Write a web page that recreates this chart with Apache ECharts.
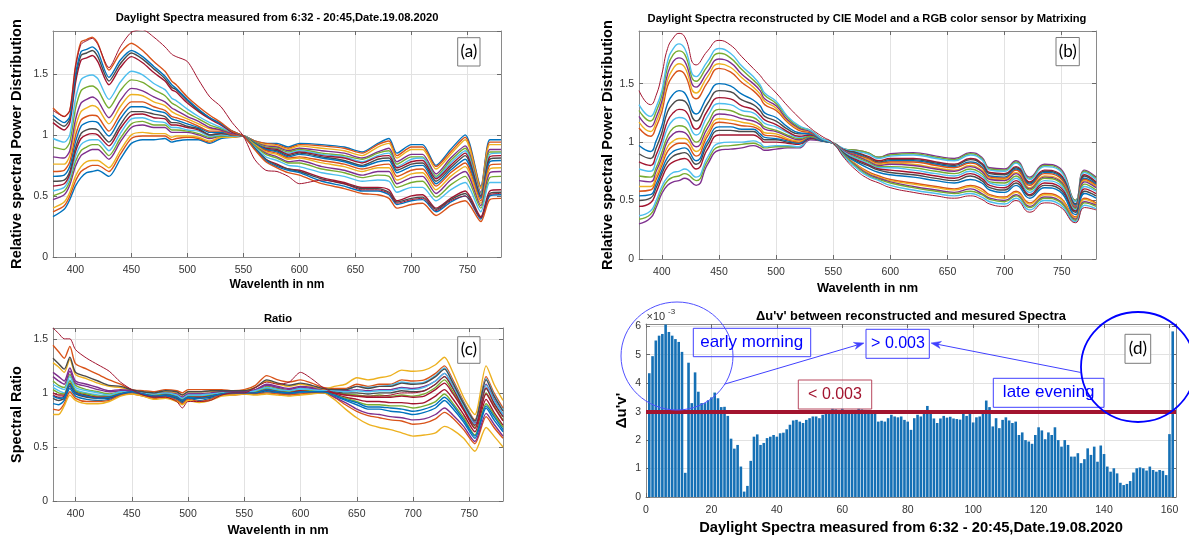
<!DOCTYPE html>
<html>
<head>
<meta charset="utf-8">
<title>Daylight spectra</title>
<script src="https://cdn.jsdelivr.net/npm/echarts@6/dist/echarts.min.js"></script>
<style>
  html, body { margin: 0; padding: 0; background: #fff; }
  #chart { width: 1189px; height: 540px; }
</style>
</head>
<body>
<div id="chart"></div>
<script>
// ---------------- data ----------------
// wavelength tick labels (nm)
const WL_TICKS = [400, 450, 500, 550, 600, 650, 700, 750];

// sample wavelengths of the measured / reconstructed spectra (nm)
const WL_AB = [380,390,395,400,405,410,415,420,430,440,
               450,460,470,480,486,490,500,510,520,530,
               540,550,560,570,580,590,600,620,640,656,
               670,680,687,700,710,722,735,748,762,770,780];

// (a) measured relative spectral power distributions
const meas01 = [0.33,0.39,0.47,0.58,0.65,0.69,0.70,0.71,0.66,0.80, 0.93,0.96,0.96,0.97,0.94,0.95,0.96,0.96,0.93,0.97, 0.98,0.99,0.95,0.93,0.93,0.90,0.93,0.92,0.90,0.86, 0.93,0.97,0.85,0.92,0.92,0.75,0.88,1.00,0.58,0.96,0.96];
const meas02 = [0.37,0.42,0.50,0.62,0.70,0.73,0.75,0.75,0.70,0.84, 0.97,0.99,0.99,0.99,0.96,0.97,0.98,0.97,0.94,0.98, 0.98,0.99,0.95,0.93,0.92,0.89,0.92,0.91,0.89,0.85, 0.92,0.95,0.83,0.90,0.90,0.74,0.86,0.98,0.57,0.94,0.94];
const meas03 = [0.40,0.45,0.53,0.66,0.74,0.78,0.79,0.79,0.73,0.87, 1.00,1.02,1.01,1.01,0.98,0.99,0.99,0.98,0.95,0.98, 0.98,0.99,0.94,0.92,0.91,0.88,0.91,0.89,0.87,0.83, 0.90,0.93,0.81,0.88,0.88,0.72,0.84,0.96,0.56,0.92,0.92];
const meas04 = [0.47,0.51,0.59,0.74,0.83,0.86,0.88,0.88,0.80,0.94, 1.06,1.08,1.06,1.06,1.02,1.02,1.02,1.00,0.97,0.99, 0.99,0.99,0.94,0.91,0.90,0.87,0.89,0.87,0.85,0.81, 0.86,0.89,0.78,0.84,0.84,0.68,0.81,0.91,0.53,0.88,0.88];
const meas05 = [0.50,0.54,0.62,0.78,0.87,0.90,0.92,0.92,0.83,0.97, 1.09,1.11,1.08,1.08,1.04,1.04,1.03,1.01,0.98,0.99, 0.99,0.99,0.94,0.90,0.89,0.86,0.88,0.85,0.83,0.80, 0.85,0.87,0.76,0.82,0.82,0.66,0.79,0.89,0.52,0.86,0.86];
const meas06 = [0.54,0.57,0.65,0.82,0.92,0.95,0.96,0.96,0.87,1.01, 1.13,1.14,1.11,1.10,1.06,1.06,1.04,1.03,0.99,1.00, 0.99,0.99,0.93,0.89,0.88,0.85,0.87,0.84,0.82,0.78, 0.83,0.85,0.74,0.80,0.81,0.65,0.77,0.87,0.51,0.84,0.85];
const meas07 = [0.58,0.60,0.68,0.86,0.97,1.00,1.01,1.00,0.91,1.05, 1.16,1.17,1.14,1.13,1.08,1.08,1.06,1.04,1.00,1.01, 1.00,0.99,0.93,0.89,0.88,0.84,0.86,0.83,0.81,0.77, 0.82,0.83,0.73,0.78,0.79,0.64,0.75,0.85,0.50,0.82,0.83];
const meas08 = [0.62,0.63,0.70,0.89,1.01,1.04,1.05,1.04,0.94,1.08, 1.19,1.19,1.17,1.15,1.10,1.10,1.07,1.05,1.00,1.01, 1.00,0.99,0.93,0.88,0.87,0.83,0.85,0.82,0.79,0.75, 0.80,0.81,0.71,0.76,0.77,0.62,0.73,0.83,0.49,0.80,0.81];
const meas09 = [0.66,0.67,0.74,0.94,1.07,1.10,1.11,1.10,0.99,1.13, 1.23,1.23,1.20,1.18,1.13,1.12,1.09,1.06,1.02,1.02, 1.00,0.99,0.93,0.88,0.86,0.82,0.84,0.81,0.78,0.74, 0.78,0.79,0.69,0.74,0.75,0.60,0.71,0.80,0.48,0.78,0.79];
const meas10 = [0.70,0.71,0.78,0.99,1.12,1.15,1.16,1.15,1.03,1.17, 1.27,1.27,1.23,1.20,1.15,1.14,1.11,1.07,1.03,1.03, 1.00,0.99,0.92,0.87,0.85,0.81,0.82,0.79,0.76,0.72, 0.75,0.76,0.66,0.71,0.72,0.58,0.69,0.77,0.46,0.75,0.76];
const meas11 = [0.76,0.76,0.83,1.06,1.19,1.22,1.24,1.22,1.09,1.23, 1.33,1.32,1.27,1.24,1.19,1.17,1.13,1.09,1.05,1.04, 1.01,0.99,0.92,0.86,0.84,0.80,0.81,0.77,0.74,0.70, 0.73,0.73,0.63,0.68,0.69,0.55,0.66,0.74,0.44,0.72,0.73];
const meas12 = [0.82,0.81,0.87,1.12,1.26,1.29,1.31,1.28,1.14,1.28, 1.38,1.36,1.31,1.27,1.22,1.20,1.15,1.11,1.06,1.04, 1.01,0.99,0.91,0.85,0.82,0.78,0.79,0.74,0.71,0.67, 0.70,0.70,0.60,0.65,0.66,0.52,0.63,0.70,0.42,0.69,0.70];
const meas13 = [0.90,0.88,0.94,1.21,1.36,1.39,1.40,1.37,1.22,1.36, 1.45,1.43,1.37,1.32,1.26,1.24,1.18,1.13,1.08,1.05, 1.02,0.99,0.91,0.84,0.81,0.77,0.77,0.72,0.69,0.65, 0.67,0.66,0.57,0.61,0.62,0.49,0.59,0.66,0.40,0.65,0.66];
const meas14 = [0.97,0.94,1.00,1.29,1.45,1.48,1.49,1.46,1.29,1.43, 1.52,1.49,1.42,1.37,1.30,1.28,1.21,1.15,1.10,1.06, 1.02,0.99,0.90,0.82,0.79,0.75,0.74,0.69,0.66,0.62, 0.63,0.62,0.53,0.57,0.57,0.46,0.55,0.61,0.37,0.61,0.61];
const meas15 = [1.10,1.04,1.10,1.42,1.61,1.63,1.65,1.60,1.41,1.55, 1.64,1.59,1.51,1.44,1.37,1.35,1.26,1.19,1.13,1.08, 1.02,0.99,0.89,0.80,0.76,0.72,0.71,0.65,0.61,0.57, 0.57,0.55,0.46,0.50,0.51,0.40,0.48,0.54,0.33,0.54,0.55];
const meas16 = [1.13,1.07,1.13,1.46,1.65,1.67,1.69,1.64,1.44,1.58, 1.67,1.62,1.54,1.46,1.39,1.37,1.28,1.20,1.14,1.09, 1.03,0.99,0.89,0.80,0.75,0.72,0.70,0.64,0.60,0.56, 0.56,0.53,0.45,0.48,0.49,0.39,0.47,0.52,0.32,0.52,0.53];
const meas17 = [1.16,1.10,1.15,1.49,1.68,1.70,1.72,1.68,1.47,1.61, 1.69,1.64,1.56,1.48,1.41,1.38,1.29,1.21,1.14,1.09, 1.03,0.99,0.89,0.79,0.74,0.71,0.69,0.62,0.58,0.54, 0.54,0.51,0.43,0.46,0.47,0.37,0.45,0.50,0.31,0.50,0.51];
const meas18 = [1.22,1.15,1.20,1.56,1.76,1.78,1.80,1.75,1.53,1.67, 1.75,1.69,1.60,1.52,1.44,1.41,1.31,1.23,1.16,1.10, 1.03,0.99,0.88,0.78,0.73,0.69,0.67,0.60,0.56,0.52, 0.51,0.48,0.40,0.43,0.44,0.34,0.42,0.46,0.29,0.47,0.48];
const measPeak = [1.20,1.15,1.20,1.55,1.74,1.77,1.79,1.74,1.55,1.72, 1.84,1.86,1.80,1.72,1.66,1.64,1.60,1.45,1.31,1.23, 1.10,0.99,0.80,0.71,0.70,0.66,0.60,0.63,0.60,0.55, 0.55,0.52,0.44,0.47,0.48,0.38,0.46,0.50,0.32,0.51,0.52];

// (b) spectra reconstructed by the CIE model from the RGB sensor
const reco01 = [0.30,0.35,0.44,0.56,0.63,0.66,0.67,0.69,0.63,0.81, 0.93,0.94,0.95,0.97,0.95,0.93,0.94,0.95,0.95,1.02, 1.01,0.99,0.94,0.93,0.91,0.87,0.90,0.91,0.88,0.86, 0.91,0.87,0.78,0.77,0.84,0.70,0.81,0.78,0.50,0.76,0.70];
const reco02 = [0.34,0.38,0.47,0.59,0.67,0.70,0.71,0.73,0.67,0.84, 0.96,0.97,0.98,0.99,0.97,0.95,0.96,0.96,0.96,1.03, 1.01,0.99,0.94,0.93,0.91,0.87,0.89,0.90,0.87,0.85, 0.90,0.86,0.77,0.76,0.83,0.69,0.80,0.77,0.50,0.75,0.69];
const reco03 = [0.37,0.41,0.50,0.62,0.70,0.74,0.75,0.77,0.70,0.87, 0.99,1.00,1.00,1.01,0.99,0.96,0.97,0.97,0.96,1.03, 1.01,0.99,0.94,0.92,0.90,0.86,0.88,0.89,0.86,0.84, 0.89,0.85,0.76,0.75,0.82,0.68,0.79,0.76,0.49,0.74,0.68];
const reco04 = [0.45,0.48,0.57,0.69,0.79,0.83,0.85,0.86,0.77,0.94, 1.06,1.06,1.06,1.06,1.03,1.00,1.00,0.99,0.98,1.03, 1.01,0.99,0.93,0.91,0.88,0.84,0.86,0.86,0.83,0.81, 0.86,0.82,0.74,0.73,0.79,0.66,0.76,0.73,0.47,0.72,0.66];
const reco05 = [0.50,0.52,0.61,0.73,0.83,0.88,0.90,0.91,0.81,0.98, 1.10,1.10,1.09,1.09,1.05,1.02,1.02,1.00,0.99,1.04, 1.01,0.99,0.93,0.91,0.87,0.83,0.85,0.85,0.82,0.80, 0.85,0.81,0.73,0.72,0.78,0.65,0.75,0.72,0.47,0.71,0.65];
const reco06 = [0.54,0.55,0.64,0.76,0.87,0.92,0.94,0.95,0.84,1.01, 1.13,1.13,1.11,1.11,1.07,1.04,1.03,1.01,0.99,1.04, 1.01,0.99,0.92,0.90,0.86,0.82,0.84,0.84,0.81,0.79, 0.83,0.79,0.71,0.70,0.77,0.64,0.74,0.71,0.46,0.69,0.64];
const reco07 = [0.58,0.59,0.68,0.80,0.92,0.97,0.99,0.99,0.88,1.05, 1.17,1.16,1.14,1.13,1.10,1.06,1.05,1.02,1.00,1.05, 1.02,0.99,0.92,0.89,0.86,0.82,0.83,0.83,0.80,0.78, 0.82,0.78,0.70,0.69,0.76,0.63,0.73,0.70,0.45,0.68,0.63];
const reco08 = [0.62,0.62,0.71,0.83,0.96,1.01,1.03,1.03,0.92,1.08, 1.20,1.19,1.17,1.15,1.12,1.08,1.07,1.03,1.01,1.05, 1.02,0.99,0.92,0.88,0.85,0.81,0.82,0.81,0.78,0.76, 0.80,0.76,0.69,0.68,0.74,0.61,0.71,0.68,0.44,0.67,0.62];
const reco09 = [0.67,0.66,0.75,0.87,1.01,1.07,1.09,1.08,0.96,1.12, 1.24,1.23,1.20,1.18,1.15,1.11,1.09,1.05,1.02,1.05, 1.02,0.99,0.92,0.88,0.84,0.80,0.81,0.80,0.77,0.75, 0.79,0.75,0.68,0.67,0.73,0.60,0.70,0.67,0.44,0.66,0.61];
const reco10 = [0.71,0.70,0.78,0.91,1.05,1.12,1.14,1.13,1.00,1.16, 1.28,1.27,1.23,1.21,1.17,1.13,1.10,1.06,1.03,1.05, 1.02,0.99,0.91,0.87,0.83,0.79,0.79,0.78,0.75,0.73, 0.77,0.73,0.66,0.65,0.71,0.59,0.69,0.66,0.43,0.64,0.59];
const reco11 = [0.77,0.75,0.84,0.97,1.12,1.19,1.21,1.20,1.06,1.22, 1.33,1.32,1.27,1.25,1.20,1.16,1.13,1.08,1.04,1.06, 1.02,0.99,0.91,0.86,0.82,0.78,0.78,0.76,0.73,0.71, 0.75,0.71,0.65,0.63,0.69,0.57,0.67,0.64,0.42,0.62,0.58];
const reco12 = [0.83,0.80,0.89,1.02,1.18,1.25,1.28,1.27,1.11,1.27, 1.38,1.37,1.31,1.28,1.23,1.19,1.15,1.09,1.05,1.06, 1.02,0.99,0.90,0.85,0.81,0.77,0.76,0.74,0.71,0.69, 0.73,0.69,0.63,0.61,0.67,0.55,0.65,0.62,0.41,0.60,0.56];
const reco13 = [0.90,0.86,0.95,1.08,1.26,1.33,1.36,1.35,1.18,1.33, 1.44,1.43,1.36,1.32,1.27,1.22,1.18,1.11,1.07,1.07, 1.02,0.99,0.90,0.84,0.80,0.76,0.74,0.72,0.69,0.67, 0.71,0.67,0.61,0.59,0.65,0.54,0.63,0.60,0.40,0.58,0.54];
const reco14 = [0.97,0.92,1.01,1.14,1.33,1.41,1.44,1.42,1.24,1.39, 1.50,1.48,1.41,1.36,1.31,1.25,1.21,1.13,1.08,1.07, 1.02,0.99,0.89,0.83,0.78,0.74,0.72,0.70,0.67,0.65, 0.68,0.65,0.59,0.57,0.63,0.52,0.61,0.58,0.38,0.56,0.52];
const reco15 = [1.12,1.05,1.13,1.26,1.48,1.57,1.61,1.58,1.37,1.51, 1.63,1.60,1.51,1.44,1.38,1.32,1.27,1.17,1.10,1.08, 1.03,0.99,0.88,0.81,0.75,0.71,0.68,0.65,0.62,0.60, 0.63,0.60,0.55,0.53,0.58,0.48,0.56,0.53,0.36,0.52,0.48];
const reco16 = [1.17,1.09,1.17,1.31,1.53,1.63,1.67,1.64,1.42,1.56, 1.67,1.64,1.55,1.47,1.41,1.35,1.29,1.18,1.11,1.09, 1.03,0.99,0.88,0.81,0.74,0.70,0.67,0.64,0.61,0.59, 0.62,0.58,0.54,0.52,0.57,0.47,0.55,0.52,0.35,0.51,0.47];
const reco17 = [1.22,1.13,1.21,1.35,1.58,1.69,1.72,1.69,1.47,1.60, 1.71,1.68,1.58,1.50,1.44,1.37,1.31,1.19,1.12,1.09, 1.03,0.99,0.88,0.80,0.73,0.69,0.66,0.62,0.59,0.57, 0.60,0.56,0.52,0.50,0.55,0.45,0.53,0.50,0.34,0.49,0.46];
const reco18 = [1.27,1.18,1.26,1.40,1.64,1.75,1.78,1.75,1.52,1.65, 1.76,1.72,1.62,1.53,1.47,1.40,1.33,1.21,1.13,1.10, 1.03,0.99,0.88,0.79,0.72,0.68,0.65,0.61,0.58,0.56, 0.58,0.55,0.51,0.49,0.54,0.44,0.52,0.49,0.33,0.48,0.45];
const reco19 = [1.32,1.22,1.30,1.44,1.69,1.80,1.84,1.80,1.56,1.69, 1.80,1.76,1.65,1.56,1.49,1.42,1.35,1.22,1.14,1.10, 1.03,0.99,0.87,0.78,0.71,0.67,0.63,0.59,0.56,0.54, 0.56,0.53,0.49,0.47,0.52,0.42,0.50,0.47,0.32,0.46,0.43];
const recoPeak = [1.44,1.32,1.40,1.58,1.80,1.89,1.93,1.90,1.66,1.78, 1.87,1.83,1.73,1.63,1.57,1.52,1.42,1.31,1.21,1.12, 1.05,0.99,0.86,0.76,0.69,0.65,0.61,0.57,0.54,0.52, 0.54,0.51,0.47,0.45,0.50,0.40,0.48,0.45,0.31,0.44,0.42];

// (c) ratio measured / reconstructed
const WL_C = [380,385,390,395,400,410,420,430,440,450,460,470,480,490,495,500,510,520,530,540,550,560,570,580,590,600,610,620,
              630,640,650,660,670,680,690,700,710,720,728,735,745,755,765,772,780];
const ratio01 = [1.44,1.38,1.32,1.43,1.27,1.22,1.17,1.12,1.08,1.03,1.02,1.01,1.03,1.02,1.00,1.03,1.03,1.03,1.03,1.02,1.03,1.07,1.16,1.12,1.10,1.12,1.09,1.05, 1.04,1.04,1.08,1.06,1.08,1.08,1.12,1.11,1.12,1.18,1.25,1.13,0.92,0.75,1.15,1.00,0.86];
const ratio02 = [1.28,1.24,1.19,1.31,1.17,1.13,1.09,1.06,1.05,1.02,1.01,1.00,1.01,1.00,0.98,1.01,1.01,1.01,1.02,1.01,1.02,1.05,1.11,1.08,1.06,1.08,1.06,1.03, 1.06,1.08,1.14,1.12,1.14,1.16,1.21,1.20,1.21,1.26,1.33,1.20,0.96,0.80,1.25,1.08,0.93];
const ratio03 = [1.19,1.15,1.11,1.23,1.11,1.08,1.05,1.02,1.03,1.02,1.00,0.99,1.00,0.99,0.96,0.99,0.99,1.00,1.01,1.01,1.01,1.03,1.08,1.06,1.04,1.06,1.05,1.02, 1.02,1.02,1.03,1.02,1.03,1.03,1.05,1.04,1.06,1.11,1.18,1.07,0.88,0.72,1.08,0.94,0.80];
const ratio04 = [1.11,1.07,1.05,1.17,1.07,1.03,1.01,0.99,1.01,1.01,1.00,0.99,1.00,0.98,0.95,0.98,0.98,0.99,1.00,1.00,1.00,1.02,1.06,1.04,1.02,1.04,1.03,1.02, 1.00,0.99,0.98,0.97,0.98,0.97,0.98,0.97,0.99,1.05,1.12,1.02,0.85,0.68,1.00,0.88,0.75];
const ratio05 = [1.05,1.02,1.00,1.12,1.03,1.00,0.98,0.97,1.00,1.01,0.99,0.98,0.99,0.97,0.94,0.97,0.97,0.98,1.00,1.00,1.00,1.01,1.04,1.02,1.01,1.03,1.02,1.01, 1.03,1.03,1.06,1.05,1.06,1.07,1.10,1.09,1.10,1.16,1.23,1.11,0.91,0.74,1.13,0.98,0.84];
const ratio06 = [1.00,0.98,0.98,1.09,1.01,0.98,0.96,0.96,0.99,1.01,0.99,0.97,0.98,0.96,0.93,0.96,0.96,0.97,0.99,1.00,1.00,1.00,1.03,1.01,1.00,1.02,1.01,1.01, 0.99,0.96,0.94,0.92,0.92,0.91,0.91,0.90,0.91,0.97,1.03,0.95,0.80,0.64,0.94,0.82,0.70];
const ratio07 = [0.95,0.93,0.95,1.06,0.99,0.96,0.95,0.95,0.99,1.00,0.98,0.96,0.97,0.95,0.92,0.95,0.95,0.96,0.99,0.99,1.00,1.00,1.02,1.00,0.99,1.01,1.01,1.01, 1.01,1.00,1.00,0.99,1.00,1.00,1.02,1.01,1.02,1.08,1.15,1.05,0.87,0.70,1.04,0.91,0.78];
const ratio08 = [0.90,0.89,0.93,1.04,0.97,0.94,0.93,0.94,0.98,1.00,0.98,0.96,0.97,0.94,0.91,0.95,0.93,0.95,0.98,0.99,0.99,0.99,1.01,1.00,0.99,1.00,1.00,1.00, 0.97,0.93,0.89,0.85,0.85,0.83,0.82,0.80,0.82,0.86,0.93,0.86,0.73,0.58,0.86,0.75,0.64];
const ratio09 = [0.85,0.84,0.90,1.01,0.95,0.92,0.92,0.93,0.98,0.99,0.97,0.95,0.96,0.93,0.90,0.94,0.92,0.94,0.98,0.98,0.99,0.99,1.00,0.99,0.98,0.99,1.00,1.00, 0.96,0.89,0.83,0.79,0.77,0.75,0.74,0.71,0.72,0.76,0.82,0.77,0.66,0.53,0.78,0.68,0.58];
const ratio10 = [0.80,0.80,0.88,0.98,0.93,0.90,0.90,0.92,0.97,0.99,0.97,0.94,0.95,0.92,0.89,0.93,0.91,0.93,0.97,0.98,0.99,0.98,0.99,0.98,0.97,0.98,0.99,1.00, 0.94,0.85,0.77,0.71,0.68,0.66,0.63,0.60,0.61,0.63,0.69,0.66,0.58,0.46,0.68,0.60,0.50];
const ratio11 = [1.15,1.11,1.08,1.20,1.09,1.06,1.03,1.01,1.02,1.02,1.00,0.99,1.00,0.98,0.96,0.99,0.99,0.99,1.01,1.01,1.01,1.03,1.07,1.05,1.03,1.05,1.04,1.02, 0.96,0.91,0.85,0.81,0.80,0.78,0.77,0.75,0.76,0.80,0.86,0.80,0.69,0.55,0.81,0.71,0.60];
const ratio12 = [1.03,1.00,0.99,1.11,1.02,0.99,0.97,0.97,1.00,1.01,0.99,0.98,0.99,0.97,0.94,0.97,0.96,0.98,1.00,1.00,1.00,1.01,1.04,1.02,1.01,1.02,1.02,1.01, 0.98,0.95,0.92,0.89,0.89,0.88,0.88,0.86,0.88,0.92,0.99,0.91,0.77,0.61,0.90,0.80,0.68];
const ratio13 = [1.08,1.05,1.03,1.15,1.05,1.02,1.00,0.98,1.01,1.01,1.00,0.99,1.00,0.98,0.95,0.98,0.98,0.99,1.00,1.00,1.00,1.02,1.05,1.03,1.02,1.04,1.03,1.02, 1.02,1.01,1.02,1.01,1.02,1.02,1.04,1.03,1.05,1.11,1.18,1.07,0.88,0.71,1.07,0.93,0.80];
const ratio14 = [0.98,0.96,0.97,1.08,1.00,0.97,0.96,0.96,0.99,1.01,0.99,0.97,0.98,0.96,0.93,0.96,0.96,0.97,0.99,1.00,1.00,1.00,1.03,1.01,1.00,1.02,1.01,1.01, 1.00,0.98,0.97,0.96,0.96,0.96,0.97,0.96,0.97,1.03,1.09,1.00,0.84,0.67,0.99,0.87,0.74];
const ratio15 = [1.32,1.27,1.22,1.33,1.19,1.15,1.11,1.07,1.06,1.03,1.01,1.00,1.02,1.01,0.98,1.01,1.01,1.02,1.02,1.02,1.02,1.05,1.12,1.09,1.07,1.09,1.07,1.04, 1.03,1.03,1.06,1.04,1.06,1.06,1.09,1.08,1.09,1.15,1.22,1.10,0.90,0.74,1.12,0.97,0.83];
const ratio16 = [0.97,0.95,0.96,1.08,1.00,0.97,0.95,0.96,0.99,1.01,0.99,0.97,0.98,0.96,0.93,0.96,0.95,0.97,0.99,1.00,1.00,1.00,1.03,1.01,1.00,1.01,1.01,1.01, 0.98,0.94,0.91,0.87,0.87,0.86,0.85,0.83,0.85,0.89,0.96,0.89,0.75,0.60,0.88,0.78,0.66];
const ratioPeak = [1.60,1.55,1.50,1.50,1.40,1.32,1.26,1.20,1.10,1.03,0.98,0.96,0.96,0.92,0.86,0.92,0.92,0.93,0.98,1.00,1.00,1.05,1.10,1.08,1.10,1.19,1.13,1.05, 1.00,0.98,0.97,0.97,0.97,0.98,1.00,1.00,1.02,1.08,1.15,1.05,0.85,0.70,1.05,0.90,0.78];

// (d) colour difference Δu'v' per measured spectrum, in units of 1e-3
const DUV = [4.35,4.95,5.50,5.67,5.73,6.06,5.80,5.67,5.55,5.45,
             5.10,0.85,4.72,3.30,4.38,3.70,3.30,3.30,3.40,3.50,
             3.67,3.47,3.16,3.17,2.85,2.05,1.70,1.83,1.07,0.19,
             0.39,1.27,2.12,2.20,1.83,1.90,2.07,2.12,2.18,2.12,
             2.24,2.26,2.38,2.54,2.69,2.71,2.65,2.60,2.71,2.77,
             2.83,2.83,2.77,2.89,3.00,3.05,3.10,3.08,3.05,3.10,
             3.05,3.04,3.06,3.05,3.10,3.08,3.06,3.04,3.05,3.02,
             2.65,2.68,2.65,2.77,2.89,2.83,2.80,2.83,2.71,2.65,
             2.36,2.77,2.89,2.83,2.92,3.20,2.94,2.76,2.60,2.76,
             2.85,2.79,2.82,2.76,2.74,2.72,2.95,2.85,2.95,2.62,
             2.80,2.83,3.03,3.39,3.16,2.48,2.77,2.42,2.71,2.80,
             2.69,2.60,2.65,2.18,2.27,2.00,1.95,1.87,2.18,2.45,
             2.34,2.03,2.27,2.18,2.45,2.00,1.77,2.00,1.83,1.42,
             1.42,1.54,1.19,1.33,1.71,1.48,1.77,1.24,1.81,1.51,
             1.07,0.89,1.01,0.83,0.50,0.42,0.46,0.56,0.86,1.01,
             1.04,1.01,0.93,1.07,0.95,0.89,0.95,0.92,0.77,2.21,
             5.82];
const DUV_THRESHOLD = 3;   // 0.003 expressed in 1e-3 units

const MEASURED = [meas01, meas02, meas03, meas04, meas05, meas06, meas07, meas08, meas09,
                  meas10, meas11, meas12, meas13, meas14, meas15, meas16, meas17, meas18];
const RECONSTRUCTED = [reco01, reco02, reco03, reco04, reco05, reco06, reco07, reco08, reco09, reco10,
                       reco11, reco12, reco13, reco14, reco15, reco16, reco17, reco18, reco19];
const RATIOS = [ratio01, ratio02, ratio03, ratio04, ratio05, ratio06, ratio07, ratio08,
                ratio09, ratio10, ratio11, ratio12, ratio13, ratio14, ratio15, ratio16];

// ---------------- styling ----------------
const FONT = '"Liberation Sans", Arial, Helvetica, sans-serif';
const TAG_FONT = 'Lato, "Open Sans", sans-serif';
const LINE_COLORS = ['#0072BD', '#D95319', '#EDB120', '#7E2F8E', '#77AC30', '#4DBEEE', '#A2142F', '#4a4a4a'];
const PEAK_COLOR = '#A2142F';

const PANELS = [
  { left: 53,  top: 31,  width: 448, height: 226 },
  { left: 639, top: 31,  width: 457, height: 228 },
  { left: 53,  top: 328, width: 450, height: 173 },
  { left: 646, top: 324, width: 530, height: 173 }
];

const BOX = { show: true, onZero: false, lineStyle: { color: '#8a8a8a', width: 1 } };
const TICK = { show: true, inside: true, length: 4, lineStyle: { color: '#6a6a6a', width: 1 } };
const TICK_LABEL = { color: '#333', fontSize: 10.5, fontFamily: FONT };
const GRID_LINE = { show: true, lineStyle: { color: '#e2e2e2', width: 1 } };

function nameStyle(size) {
  return { fontWeight: 'bold', fontSize: size, color: '#000', fontFamily: FONT };
}

function xAxes(gi, min, max, name, size, gap, customTicks, interval) {
  const bottom = {
    type: 'value', gridIndex: gi, position: 'bottom', min, max,
    axisLine: BOX, axisTick: Object.assign({}, TICK),
    axisLabel: Object.assign({ margin: 8 }, TICK_LABEL),
    splitLine: GRID_LINE,
    name, nameLocation: 'middle', nameGap: gap, nameTextStyle: nameStyle(size)
  };
  const top = {
    type: 'value', gridIndex: gi, position: 'top', min, max,
    axisLine: BOX, axisTick: Object.assign({}, TICK),
    axisLabel: { show: false }, splitLine: { show: false }
  };
  if (customTicks) {
    bottom.splitNumber = 8; top.splitNumber = 8;
    bottom.axisTick.customValues = customTicks;
    bottom.axisLabel.customValues = customTicks;
    top.axisTick.customValues = customTicks;
  } else {
    bottom.interval = interval; top.interval = interval;
    bottom.axisLabel.showMaxLabel = false;
  }
  return [bottom, top];
}

function yAxes(gi, max, interval, name, size, gap) {
  const left = {
    type: 'value', gridIndex: gi, position: 'left', min: 0, max, interval,
    axisLine: BOX, axisTick: TICK,
    axisLabel: Object.assign({ margin: 5, showMaxLabel: false }, TICK_LABEL),
    splitLine: GRID_LINE,
    name, nameLocation: 'middle', nameRotate: 90, nameGap: gap, nameTextStyle: nameStyle(size)
  };
  const right = {
    type: 'value', gridIndex: gi, position: 'right', min: 0, max, interval,
    axisLine: BOX, axisTick: TICK, axisLabel: { show: false }, splitLine: { show: false }
  };
  return [left, right];
}

function curveSeries(gi, wl, curves, smooth, colorOffset) {
  return curves.map((c, k) => ({
    type: 'line', xAxisIndex: 2 * gi, yAxisIndex: 2 * gi,
    data: wl.map((w, i) => [w, c[i]]),
    symbol: 'none', showSymbol: false, smooth, silent: true,
    lineStyle: { width: 1.4, color: LINE_COLORS[(k + colorOffset) % LINE_COLORS.length] }
  }));
}

function peakSeries(gi, wl, c, smooth) {
  return {
    type: 'line', xAxisIndex: 2 * gi, yAxisIndex: 2 * gi,
    data: wl.map((w, i) => [w, c[i]]),
    symbol: 'none', showSymbol: false, smooth, silent: true,
    lineStyle: { width: 1, color: PEAK_COLOR }
  };
}

// ---------------- annotation helpers ----------------
function text(x, y, str, size, weight, fill, family, align) {
  return {
    type: 'text', x, y, z: 100, silent: true,
    style: { text: str, fontSize: size, fontWeight: weight || 'normal', fontFamily: family || FONT,
             fill: fill || '#000', align: align || 'center', verticalAlign: 'middle' }
  };
}
function rect(x, y, w, h, stroke, fill) {
  return { type: 'rect', z: 99, silent: true, shape: { x, y, width: w, height: h },
           style: { fill: fill || 'none', stroke, lineWidth: 1 } };
}
function ellipse(cx, cy, rx, ry, stroke, width) {
  return { type: 'ellipse', z: 100, silent: true, shape: { cx, cy, rx, ry },
           style: { fill: 'none', stroke, lineWidth: width } };
}
function arrow(x1, y1, x2, y2, color) {
  const a = Math.atan2(y2 - y1, x2 - x1);
  const L = 10, W = 3.6;
  const ux = Math.cos(a), uy = Math.sin(a), px = -uy, py = ux;
  const bx = x2 - L * ux, by = y2 - L * uy;
  const nx = x2 - 0.7 * L * ux, ny = y2 - 0.7 * L * uy;
  return [
    { type: 'line', z: 100, silent: true, shape: { x1, y1, x2: nx, y2: ny }, style: { stroke: color, lineWidth: 1 } },
    { type: 'polygon', z: 100, silent: true,
      shape: { points: [[x2, y2], [bx + W * px, by + W * py], [nx, ny], [bx - W * px, by - W * py]] },
      style: { fill: color, stroke: color, lineWidth: 0.5 } }
  ];
}

const BLUE = '#0000ff';
const thresholdLabel = (DUV_THRESHOLD / 1000).toFixed(3);

const graphics = [
  // panel titles
  text(277, 17.5, 'Daylight Spectra measured from 6:32 - 20:45,Date.19.08.2020', 11.2, 'bold'),
  text(867, 19, 'Daylight Spectra reconstructed by CIE Model and a RGB color sensor by Matrixing', 11.2, 'bold'),
  text(278, 319, 'Ratio', 11.2, 'bold'),
  text(911, 316, '\u0394u\'v\' between reconstructed and mesured Spectra', 12.9, 'bold'),
  // panel tags
  rect(457.7, 37.7, 22.3, 28.3, '#7a7a7a', '#fff'), text(468.9, 52, '(a)', 17, 'normal', '#000', TAG_FONT),
  rect(1056, 37.5, 23.3, 28.2, '#7a7a7a', '#fff'), text(1067.7, 51.6, '(b)', 17, 'normal', '#000', TAG_FONT),
  rect(457.7, 336.7, 22.3, 26.6, '#7a7a7a', '#fff'), text(468.9, 350, '(c)', 17, 'normal', '#000', TAG_FONT),
  rect(1125, 334.3, 25.7, 29, '#7a7a7a', '#fff'), text(1137.9, 348.8, '(d)', 17, 'normal', '#000', TAG_FONT),
  // exponent of the Δu'v' axis
  text(646.5, 317, '\u00d710', 11, 'normal', '#333', FONT, 'left'),
  text(668, 312, '-3', 8, 'normal', '#333', FONT, 'left'),
  // highlighted time ranges
  ellipse(677, 356, 56, 54, '#5050ff', 1),
  ellipse(1138, 367, 57, 55, BLUE, 1.8),
  rect(693.3, 328.3, 117.4, 28.4, '#4040ff'), text(751.7, 342.5, 'early morning', 17, 'normal', BLUE),
  rect(866, 329.3, 63.3, 29, '#4040ff'), text(898, 343.8, '> ' + thresholdLabel, 16, 'normal', BLUE),
  rect(798.3, 380, 73.4, 29, '#b8485e'), text(835, 394.5, '< ' + thresholdLabel, 16, 'normal', '#A2142F'),
  rect(993.3, 378.3, 110.7, 29, '#4040ff'), text(1048.7, 392.8, 'late evening', 17, 'normal', BLUE)
].concat(arrow(725, 384, 864, 343, '#4040ff'), arrow(1081, 372.5, 931, 343, '#4040ff'));

// ---------------- chart ----------------
const option = {
  animation: false,
  textStyle: { fontFamily: FONT },
  grid: PANELS.map(p => Object.assign({ containLabel: false }, p)),
  xAxis: [].concat(
    xAxes(0, 380, 780, 'Wavelenth in nm', 12, 22, WL_TICKS),
    xAxes(1, 380, 780, 'Wavelenth in nm', 12.8, 23, WL_TICKS),
    xAxes(2, 380, 780, 'Wavelenth in nm', 12.8, 23, WL_TICKS),
    xAxes(3, 0, 162, 'Daylight Spectra measured from 6:32 - 20:45,Date.19.08.2020', 14.7, 23, null, 20)
  ),
  yAxis: [].concat(
    yAxes(0, 1.85, 0.5, 'Relative spectral Power Distribution', 14.6, 29),
    yAxes(1, 1.95, 0.5, 'Relative spectral Power Distribution', 14.6, 21),
    yAxes(2, 1.6, 0.5, 'Spectral Ratio', 14.4, 29),
    yAxes(3, 6.08, 1, '\u0394u\'v\'', 15, 17)
  ),
  series: [].concat(
    curveSeries(0, WL_AB, MEASURED, 0.25, 0), [peakSeries(0, WL_AB, measPeak, 0.25)],
    curveSeries(1, WL_AB, RECONSTRUCTED, 0.5, 3), [peakSeries(1, WL_AB, recoPeak, 0.5)],
    curveSeries(2, WL_C, RATIOS, 0.25, 1), [peakSeries(2, WL_C, ratioPeak, 0.25)],
    [{
      type: 'bar', xAxisIndex: 6, yAxisIndex: 6,
      data: DUV.map((v, i) => [i + 1, v]),
      barWidth: 2.6, silent: true,
      itemStyle: { color: '#1570b5' },
      markLine: {
        silent: true, symbol: 'none', label: { show: false },
        lineStyle: { color: '#A2142F', width: 4, type: 'solid' },
        data: [{ yAxis: DUV_THRESHOLD }]
      }
    }]
  ),
  graphic: graphics
};

const chart = echarts.init(document.getElementById('chart'), null, { renderer: 'canvas' });
chart.setOption(option);
</script>
</body>
</html>
